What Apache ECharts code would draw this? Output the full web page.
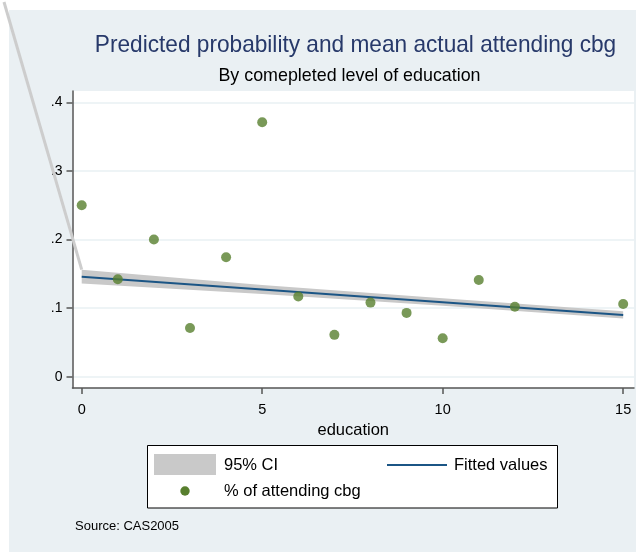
<!DOCTYPE html>
<html>
<head>
<meta charset="utf-8">
<script src="https://cdn.jsdelivr.net/npm/echarts@6/dist/echarts.min.js"></script>
<style>
  html, body { margin: 0; padding: 0; background: #ffffff; }
  #chart { width: 636px; height: 552px; }
</style>
</head>
<body>
<div id="chart"></div>
<script>
// Mean share attending cbg by completed years of education
const education = [0, 1, 2, 3, 4, 5, 6, 7, 8, 9, 10, 11, 12, 15];
const attendingShare = [0.250, 0.142, 0.200, 0.071, 0.174, 0.371, 0.117, 0.061, 0.108, 0.093, 0.056, 0.141, 0.102, 0.106];

// Linear fit and its 95% confidence band
const fitX = [0, 15];
const fitY = [0.1458, 0.0899];
const ciX = [0, 5, 10, 15];
const ciLower = [0.136, 0.1205, 0.1033, 0.0847];
const ciUpper = [0.156, 0.1335, 0.1143, 0.0955];

// Axis ticks
const xTicks = [0, 5, 10, 15];
const yTicks = [0, 0.1, 0.2, 0.3, 0.4];

const FONT = "'Liberation Sans', Arial, sans-serif";
const BG = '#eaf0f3';
const BAND = '#c9c9c9';
const LINE = '#1b5585';
const DOT = '#587f2e';

const chart = echarts.init(document.getElementById('chart'), null, { renderer: 'canvas' });

const fmtY = v => (v === 0 ? '0' : v.toFixed(1).replace(/^0/, ''));

const option = {
  backgroundColor: '#ffffff',
  animation: false,
  grid: {
    left: 72.5, right: 2, top: 91, bottom: 164,
    show: true, backgroundColor: '#ffffff', borderWidth: 0
  },
  xAxis: {
    type: 'value',
    min: -0.255, max: 15.3,
    name: 'education',
    nameLocation: 'middle',
    nameGap: 26,
    nameTextStyle: { fontFamily: FONT, fontSize: 16.5, color: '#000' },
    axisLine: { show: true, onZero: false, lineStyle: { color: '#555', width: 1.5 } },
    axisTick: { show: true, length: 6, customValues: xTicks, lineStyle: { color: '#555', width: 1.5 } },
    axisLabel: { customValues: xTicks, margin: 14, fontFamily: FONT, fontSize: 14.5, color: '#000',
      showMinLabel: true, showMaxLabel: true },
    splitLine: { show: false }
  },
  yAxis: {
    type: 'value',
    min: -0.0165, max: 0.4165,
    axisLine: { show: true, onZero: false, lineStyle: { color: '#555', width: 1.5 } },
    axisTick: { show: true, length: 6, customValues: yTicks, lineStyle: { color: '#555', width: 1.5 } },
    axisLabel: { customValues: yTicks, margin: 10, fontFamily: FONT, fontSize: 14, color: '#000',
      formatter: fmtY },
    splitLine: { show: true, lineStyle: { color: '#e9f0f3', width: 1.5 } }
  },
  series: [
    {
      // confidence band drawn as one polygon through the axis scales
      type: 'custom',
      name: '95% CI',
      data: [[0]],
      z: 1,
      renderItem: (params, api) => {
        const pts = [];
        for (let i = 0; i < ciX.length; i++) pts.push(api.coord([ciX[i], ciUpper[i]]));
        for (let i = ciX.length - 1; i >= 0; i--) pts.push(api.coord([ciX[i], ciLower[i]]));
        return {
          type: 'polygon',
          shape: { points: pts },
          style: { fill: BAND, stroke: null }
        };
      }
    },
    {
      type: 'line',
      name: 'Fitted values',
      data: fitX.map((x, i) => [x, fitY[i]]),
      showSymbol: false,
      z: 3,
      lineStyle: { color: LINE, width: 2 }
    },
    {
      type: 'scatter',
      name: '% of attending cbg',
      data: education.map((x, i) => [x, attendingShare[i]]),
      symbol: 'circle',
      symbolSize: 10,
      z: 4,
      itemStyle: { color: DOT }
    }
  ]
};

chart.setOption(option);

// Band outline running off to the top-left corner of the canvas
const bandStart = chart.convertToPixel({ gridIndex: 0 }, [ciX[0], ciUpper[0]]);

chart.setOption({
  graphic: [
    {
      type: 'rect', z: -10, silent: true,
      shape: { x: 9, y: 10, width: 627, height: 542 },
      style: { fill: BG }
    },
    {
      type: 'polyline', z: 100, silent: true,
      shape: { points: [[4, 2], [bandStart[0], bandStart[1]]] },
      style: { stroke: '#cdcdcd', lineWidth: 3, fill: null }
    },
    {
      type: 'text', silent: true,
      x: 355.5, y: 45, scaleX: 0.944,
      style: { text: 'Predicted probability and mean actual attending cbg', fontFamily: FONT, fontSize: 24,
        fill: '#27396a', align: 'center', verticalAlign: 'middle' }
    },
    {
      type: 'text', silent: true,
      x: 349.5, y: 76, scaleX: 0.94,
      style: { text: 'By comepleted level of education', fontFamily: FONT, fontSize: 19,
        fill: '#000', align: 'center', verticalAlign: 'middle' }
    },
    // legend
    {
      type: 'rect', silent: true,
      shape: { x: 147.5, y: 445.5, width: 410, height: 62.5 },
      style: { fill: '#ffffff', stroke: '#000', lineWidth: 1 }
    },
    {
      type: 'rect', silent: true,
      shape: { x: 154, y: 454, width: 62, height: 21 },
      style: { fill: BAND }
    },
    {
      type: 'text', silent: true, x: 224, y: 465,
      style: { text: '95% CI', fontFamily: FONT, fontSize: 16.5, fill: '#000', verticalAlign: 'middle' }
    },
    {
      type: 'line', silent: true,
      shape: { x1: 387, y1: 465, x2: 447, y2: 465 },
      style: { stroke: LINE, lineWidth: 2 }
    },
    {
      type: 'text', silent: true, x: 454, y: 465,
      style: { text: 'Fitted values', fontFamily: FONT, fontSize: 16.5, fill: '#000', verticalAlign: 'middle' }
    },
    {
      type: 'circle', silent: true,
      shape: { cx: 185, cy: 491, r: 4.7 },
      style: { fill: DOT }
    },
    {
      type: 'text', silent: true, x: 224, y: 491,
      style: { text: '% of attending cbg', fontFamily: FONT, fontSize: 16.5, fill: '#000', verticalAlign: 'middle' }
    },
    {
      type: 'text', silent: true, x: 75, y: 526,
      style: { text: 'Source: CAS2005', fontFamily: FONT, fontSize: 13, fill: '#000', verticalAlign: 'middle' }
    }
  ]
});
</script>
</body>
</html>
